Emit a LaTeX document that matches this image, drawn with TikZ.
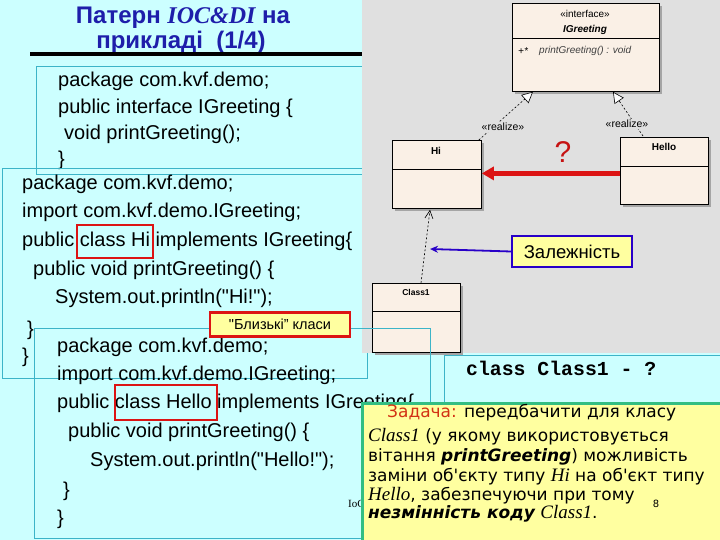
\documentclass[tikz,border=0pt]{standalone}
\usepackage{fontspec}
\setmainfont{Liberation Sans}[Ligatures=TeXOff]
\newfontfamily\serifit{Liberation Serif}[Ligatures=TeXOff]
\newfontfamily\dvs{DejaVu Sans}[Ligatures=TeXOff]
\newfontfamily\mono{Liberation Mono}[Ligatures=TeXOff]
\usetikzlibrary{arrows.meta,calc}
\definecolor{bgcyan}{RGB}{204,255,255}
\definecolor{umlgray}{RGB}{224,224,224}
\definecolor{boxcyan}{RGB}{60,180,200}
\definecolor{linen}{RGB}{250,240,230}
\definecolor{shadowgray}{RGB}{165,165,165}
\definecolor{titleblue}{RGB}{30,30,170}
\definecolor{noteyellow}{RGB}{255,255,160}
\definecolor{hlred}{RGB}{220,20,20}
\definecolor{taskgreen}{RGB}{50,190,130}
\definecolor{taskred}{RGB}{210,50,20}
\definecolor{depblue}{RGB}{40,0,200}
\tikzset{
  code/.style={anchor=base west, inner sep=0pt, font=\fontsize{20}{24}\selectfont},
  codebox/.style={draw=boxcyan, line width=0.8pt},
  umlbox/.style={draw=black, line width=0.8pt, fill=linen, anchor=north west, inner sep=0pt},
  umltxt/.style={inner sep=0pt, font=\fontsize{10}{12}\selectfont},
  realize/.style={draw=black, line width=0.6pt, dash pattern=on 2pt off 2pt, -{Triangle[open, fill=white, length=11pt, width=11pt, line width=0.6pt]}},
  reallabel/.style={fill=umlgray, inner sep=1pt, font=\fontsize{10.5}{12}\selectfont},
  hlbox/.style={draw=hlred, line width=2.2pt},
  task/.style={anchor=base west, inner sep=0pt, font=\dvs\fontsize{17}{19}\selectfont},
  ttl/.style={titleblue, inner sep=0pt, anchor=base, font=\fontsize{24}{26}\bfseries},
}
\begin{document}
\begin{tikzpicture}[x=1pt,y=-1pt]
\useasboundingbox (0,0) rectangle (720,540);
\fill[bgcyan] (0,0) rectangle (720,540);

% title
\node[ttl] (t1) at (183,24) {Патерн {\serifit\itshape IOC\&DI} на};
\node[ttl] (t2) at (181,48.5) {прикладі~~(1/4)};
\draw[line width=3.5pt] (30,54) -- (362,54);

% code box 1 (interface)
\draw[codebox] (362,66) -- (36,66) -- (36,174) -- (362,174);
\node[code] (a1) at (58,87) {package com.kvf.demo;};
\node[code] (a2) at (58,114) {public interface IGreeting \{};
\node[code] (a3) at (64,140) {void printGreeting();};
\node[code] (a4) at (58,166) {\}};

% code box 2 (Hi)
\draw[codebox] (362,168) -- (2,168) -- (2,378) -- (367,378) -- (367,353);
\node[code] (b1) at (22,190) {package com.kvf.demo;};
\node[code] (b2) at (22,218) {import com.kvf.demo.IGreeting;};
\node[code] (b3) at (22,247) {public class Hi implements IGreeting\{};
\node[code] (b4) at (33,275) {public void printGreeting() \{};
\node[code] (b5) at (55,303) {System.out.println("Hi!");};
\node[code] (b6) at (27,335) {\}};
\node[code] (b7) at (22,362) {\}};
\draw[hlbox] (77,225) rectangle (153,258);

% UML area
\fill[umlgray] (362,0) rectangle (720,353);
% shadows
\fill[shadowgray] (515,6) rectangle (662,94);
\fill[shadowgray] (395,143) rectangle (484,211);
\fill[shadowgray] (623,140) rectangle (711,207);
\fill[shadowgray] (375,286) rectangle (463,355);
\node[umlbox, minimum width=147pt, minimum height=88pt] (ig) at (512,3) {};
\draw[line width=0.8pt] (512,38) -- (659,38);
\node[umltxt] (igs) at (585,14) {«interface»};
\node[umltxt, font=\fontsize{10}{12}\bfseries\itshape] (ign) at (585,30) {IGreeting};
\node[umltxt, anchor=west, font=\fontsize{10}{12}\itshape] (igp) at (518,51) {+*};
\node[umltxt, anchor=west, font=\fontsize{10}{12}\itshape, text=black!75] (igm) at (539,51) {printGreeting() : void};

\node[umlbox, minimum width=89pt, minimum height=68pt] (hi) at (392,140) {};
\draw[line width=0.8pt] (392,169) -- (481,169);
\node[umltxt, font=\fontsize{10}{12}\bfseries] (hin) at (436,151) {Hi};

\node[umlbox, minimum width=88pt, minimum height=67pt] (hello) at (620,137) {};
\draw[line width=0.8pt] (620,166) -- (708,166);
\node[umltxt, font=\fontsize{10}{12}\bfseries] (hellon) at (664,147) {Hello};

\node[umlbox, minimum width=88pt, minimum height=69pt] (c1) at (372,283) {};
\draw[line width=0.8pt] (372,311) -- (460,311);
\node[umltxt, font=\fontsize{8.5}{10}\bfseries] (c1n) at (416,292) {Class1};

% realize connectors
\draw[realize] ($(hi.north east)+(-3,0)$) -- ($(ig.south west)+(21,0)$);
\node[reallabel] (r1) at (503,127) {«realize»};
\draw[realize] ($(hello.north west)+(23,-1)$) -- ($(ig.south west)+(101,0)$);
\node[reallabel] (r2) at (627,124) {«realize»};
% dependency
\draw[line width=0.6pt, dash pattern=on 2pt off 2pt, -{Straight Barb[length=8pt, width=8pt, line width=0.6pt]}] ($(c1.north west)+(49,0)$) -- ($(hi.south west)+(38,1)$);
% red arrow
\draw[hlred, line width=4.5pt, -{Triangle[length=12pt, width=13pt]}] ($(hello.west)+(0,2.5)$) -- ($(hi.east)+(0,-1)$);
\node[text=hlred!90!black, font=\fontsize{30}{34}\selectfont] (q) at (563,152) {?};

% Zalezhnist
\node[draw=depblue, fill=noteyellow, line width=1.8pt, minimum width=120pt, minimum height=31pt, inner sep=0pt, font=\fontsize{18.5}{22}\selectfont] (zal) at (572,251.5) {Залежність};
\coordinate (dep) at (430,249);
\draw[depblue, line width=1.8pt, -{Stealth[length=8pt, width=7pt]}] (zal.west) -- (dep);

% code box 3 (Hello)
\draw[codebox] (34,328) rectangle (430,538);
\node[code] (c1l) at (57,352) {package com.kvf.demo;};
\node[code] (c2l) at (57,380) {import com.kvf.demo.IGreeting;};
\node[code] (c3l) at (57,408) {public class Hello implements IGreeting\{};
\node[code] (c4l) at (68,437) {public void printGreeting() \{};
\node[code] (c5l) at (90,466) {System.out.println("Hello!");};
\node[code] (c6l) at (63,496) {\}};
\node[code] (c7l) at (57,524) {\}};
\draw[hlbox] (115,385) rectangle (217,420);

% close classes note
\node[draw=hlred, fill=noteyellow, line width=2.5pt, minimum width=140pt, minimum height=24pt, inner sep=0pt, font=\fontsize{14.5}{17}\selectfont] (close) at (280,324.5) {"Близькі” класи};

% class Class1 box
\draw[codebox] (444,402) -- (444,355) -- (720,355);
\node[anchor=base west, inner sep=0pt, font=\mono\bfseries\fontsize{19.8}{22}\selectfont] (cc) at (466,375) {class Class1 - ?};

% footer
\node[anchor=base west, inner sep=0pt, font=\serifit\fontsize{11}{13}\selectfont] (foot) at (348,507) {IoC};

% task box
\node[draw=taskgreen, fill=noteyellow, line width=3pt, anchor=north west, minimum width=362pt, minimum height=140pt, inner sep=0pt] (tb) at (361,402) {};
\node[task] (k1) at (387,417) {\textcolor{taskred}{Задача:} передбачити для класу};
\node[task] (k2) at (368,441) {{\serifit\itshape\fontsize{19}{19}\selectfont Class1} (у якому використовується};
\node[task] (k3) at (368,461) {вітання {\bfseries\itshape printGreeting}) можливість};
\node[task] (k4) at (368,481) {заміни об'єкту типу {\serifit\itshape\fontsize{19}{19}\selectfont Hi} на об'єкт типу};
\node[task] (k5) at (368,500) {{\serifit\itshape\fontsize{19}{19}\selectfont Hello}, забезпечуючи при тому};
\node[task] (k6) at (368,518) {{\bfseries\itshape незмінність коду} {\serifit\itshape\fontsize{19}{19}\selectfont Class1}.};
\node[anchor=base, inner sep=0pt, font=\dvs\fontsize{10}{12}\selectfont] (pg) at (656,507) {8};
\end{tikzpicture}
\end{document}
